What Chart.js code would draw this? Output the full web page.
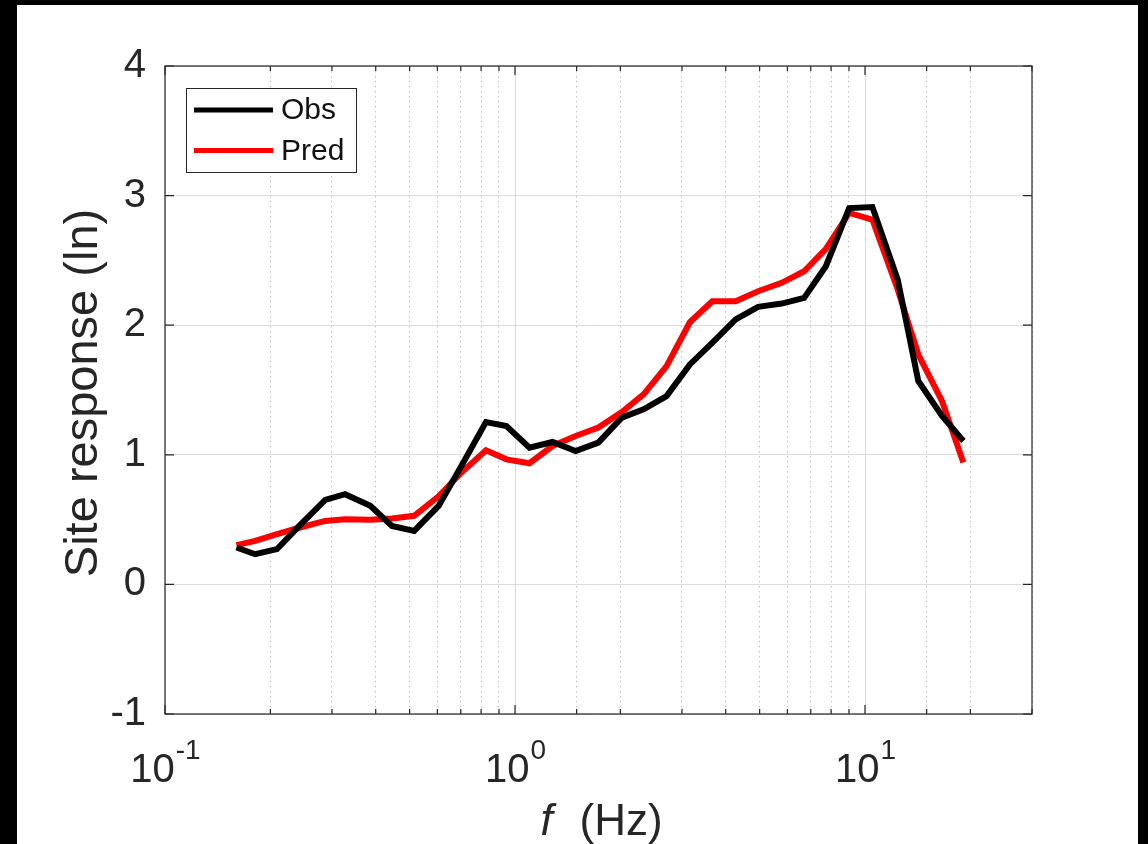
<!DOCTYPE html>
<html>
<head>
<meta charset="utf-8">
<style>
  html, body { margin: 0; padding: 0; background: #000; }
  canvas { display: block; }
</style>
<script src="https://cdn.jsdelivr.net/npm/chart.js@4.4.1/dist/chart.umd.min.js"></script>
</head>
<body>
<canvas id="chartSite" width="1148" height="844"></canvas>
<script>
// 频率 (Hz) 与两条场地响应曲线
const freqHz = [0.160, 0.181, 0.209, 0.243, 0.287, 0.327, 0.386, 0.445, 0.515, 0.605,
    0.698, 0.826, 0.945, 1.10, 1.28, 1.49, 1.73, 2.02, 2.33, 2.71,
    3.16, 3.66, 4.27, 4.95, 5.78, 6.70, 7.73, 9.01, 10.5, 12.4,
    14.2, 16.6, 19.1];
const obsResp = [0.285, 0.233, 0.272, 0.457, 0.652, 0.696, 0.606, 0.451, 0.413, 0.606,
    0.900, 1.253, 1.222, 1.055, 1.099, 1.029, 1.094, 1.287, 1.351, 1.453,
    1.697, 1.864, 2.044, 2.142, 2.167, 2.211, 2.455, 2.904, 2.912, 2.352,
    1.569, 1.299, 1.106];
const predResp = [0.303, 0.336, 0.388, 0.439, 0.490, 0.503, 0.498, 0.508, 0.529, 0.680,
    0.855, 1.035, 0.965, 0.935, 1.068, 1.145, 1.210, 1.330, 1.466, 1.684,
    2.023, 2.185, 2.185, 2.262, 2.327, 2.416, 2.589, 2.866, 2.814, 2.275,
    1.774, 1.414, 0.940];
const seriesNames = ['Obs', 'Pred'];
const xTickExps = [-1, 0, 1];
const yTicks = [-1, 0, 1, 2, 3, 4];

const FONT = "'Liberation Sans', Arial, Helvetica, sans-serif";
const TXT = '#262626';

function isDecade(v) {
    const l = Math.log10(v);
    return Math.abs(l - Math.round(l)) < 1e-6;
}

function toPoints(ys) {
    return ys.map((y, i) => ({ x: freqHz[i], y: y }));
}

// 背景、坐标框、刻度、图例、坐标轴标题
const figurePlugin = {
    id: 'figure',
    beforeDraw(chart) {
        const ctx = chart.ctx;
        ctx.save();
        ctx.fillStyle = '#000';
        ctx.fillRect(0, 0, chart.width, chart.height);
        ctx.fillStyle = '#fff';
        ctx.fillRect(17, 5, 1121, 839);
        ctx.restore();
    },
    afterDatasetsDraw(chart) {
        const { ctx, chartArea: a, scales } = chart;
        ctx.save();
        ctx.strokeStyle = TXT;
        ctx.lineWidth = 1.2;
        ctx.strokeRect(a.left, a.top, a.right - a.left, a.bottom - a.top);

        // x 向刻度（朝内，上下两侧）
        ctx.beginPath();
        scales.x.ticks.forEach(t => {
            const px = scales.x.getPixelForValue(t.value);
            const len = isDecade(t.value) ? 9 : 5;
            ctx.moveTo(px, a.bottom); ctx.lineTo(px, a.bottom - len);
            ctx.moveTo(px, a.top); ctx.lineTo(px, a.top + len);
        });
        // y 向刻度（朝内，左右两侧）
        yTicks.forEach(v => {
            const py = scales.y.getPixelForValue(v);
            ctx.moveTo(a.left, py); ctx.lineTo(a.left + 9, py);
            ctx.moveTo(a.right, py); ctx.lineTo(a.right - 9, py);
        });
        ctx.stroke();

        // 图例
        const bx = a.left + 21, by = a.top + 22, bw = 170, bh = 84;
        ctx.fillStyle = '#fff';
        ctx.fillRect(bx, by, bw, bh);
        ctx.strokeStyle = TXT;
        ctx.lineWidth = 1;
        ctx.strokeRect(bx + 0.5, by + 0.5, bw, bh);
        chart.data.datasets.forEach((ds, i) => {
            const ly = by + 22 + i * 40.5;
            ctx.strokeStyle = ds.borderColor;
            ctx.lineWidth = 5;
            ctx.beginPath();
            ctx.moveTo(bx + 8, ly);
            ctx.lineTo(bx + 87, ly);
            ctx.stroke();
            ctx.fillStyle = '#111';
            ctx.font = '30px ' + FONT;
            ctx.textBaseline = 'middle';
            ctx.textAlign = 'left';
            ctx.fillText(ds.label, bx + 95, ly + 1);
        });
        ctx.restore();
    },
    afterDraw(chart) {
        const { ctx, chartArea: a, scales } = chart;
        ctx.save();
        ctx.fillStyle = TXT;
        ctx.textBaseline = 'alphabetic';
        ctx.textAlign = 'left';

        // 10^n 刻度标签
        xTickExps.forEach(e => {
            const px = scales.x.getPixelForValue(Math.pow(10, e));
            ctx.font = '40px ' + FONT;
            const wBase = ctx.measureText('10').width;
            ctx.font = '28px ' + FONT;
            const sup = e < 0 ? '-' + (-e) : String(e);
            const wSup = ctx.measureText(sup).width;
            const x0 = px - (wBase + wSup) / 2;
            ctx.font = '40px ' + FONT;
            ctx.fillText('10', x0, 782);
            ctx.font = '28px ' + FONT;
            ctx.fillText(sup, x0 + wBase + 1, 759);
        });

        // x 轴标题
        const cx = (a.left + a.right) / 2;
        ctx.font = 'italic 44px ' + FONT;
        ctx.fillText('f', cx - 58, 835);
        ctx.font = '44px ' + FONT;
        ctx.fillText('(Hz)', cx - 19, 835);

        // y 轴标题
        ctx.translate(97, (a.top + a.bottom) / 2 + 3);
        ctx.rotate(-Math.PI / 2);
        ctx.textAlign = 'center';
        ctx.font = '47px ' + FONT;
        ctx.fillText('Site response (ln)', 0, 0);
        ctx.restore();
    }
};

let config_chartSite = {
    type: 'line',
    data: {
        datasets: [
            { label: seriesNames[0], data: toPoints(obsResp), borderColor: '#000000', borderWidth: 6, pointRadius: 0, tension: 0 },
            { label: seriesNames[1], data: toPoints(predResp), borderColor: '#ff0000', borderWidth: 6, pointRadius: 0, tension: 0 }
        ]
    },
    options: {
        responsive: false,
        animation: false,
        devicePixelRatio: 1,
        layout: { padding: { left: 17, top: 66, right: 116, bottom: 0 } },
        plugins: { legend: { display: false }, tooltip: { enabled: false } },
        scales: {
            x: {
                type: 'logarithmic',
                min: 0.1,
                max: 30,
                afterFit: s => { s.height = 130; },
                ticks: { display: false },
                grid: {
                    drawTicks: false,
                    lineWidth: 1,
                    color: c => (c.tick && isDecade(c.tick.value)) ? '#dcdcdc' : '#c4c4c4'
                },
                border: {
                    display: false,
                    dash: c => (c.tick && !isDecade(c.tick.value)) ? [1.5, 3.5] : []
                }
            },
            y: {
                type: 'linear',
                min: -1,
                max: 4,
                afterFit: s => { s.width = 148; },
                ticks: {
                    stepSize: 1,
                    padding: 19,
                    color: TXT,
                    font: { family: FONT, size: 40 }
                },
                grid: { drawTicks: false, lineWidth: 1, color: '#dcdcdc' },
                border: { display: false }
            }
        }
    },
    plugins: [figurePlugin]
};

let chartSite = new Chart(document.getElementById('chartSite'), config_chartSite);
</script>
</body>
</html>
